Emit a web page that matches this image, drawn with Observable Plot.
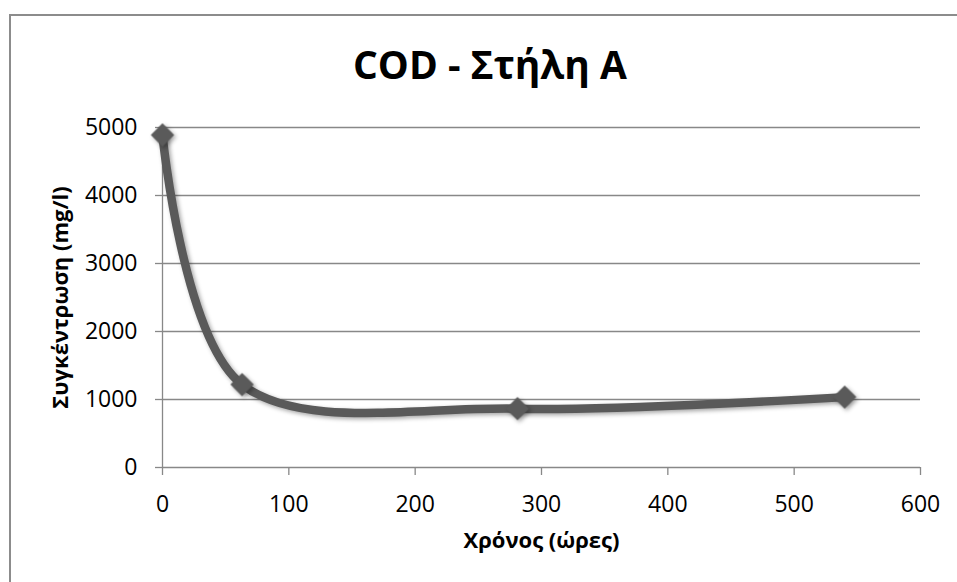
<!DOCTYPE html>
<html>
<head>
<meta charset="utf-8">
<script src="https://cdn.jsdelivr.net/npm/d3@7"></script>
<script src="https://cdn.jsdelivr.net/npm/@observablehq/plot@0.6"></script>
<style>
  html, body { margin: 0; padding: 0; background: #fff; }
  #chart { position: relative; width: 957px; height: 582px; overflow: hidden; font-family: "Open Sans", sans-serif; }
  #frame { position: absolute; left: 9px; top: 14px; right: -5px; bottom: -5px; border-left: 2px solid #8c8c8c; border-top: 2px solid #8c8c8c; }
  #title { position: absolute; left: 0; width: 980px; top: 44px; text-align: center; font-weight: 700; font-size: 39px; line-height: 1; color: #000; }
  #plot { position: absolute; left: 0; top: 0; }
  #plot svg g[aria-label="line"], #plot svg g[aria-label="dot"] { filter: drop-shadow(2px 2px 2px rgba(0,0,0,0.35)); }
</style>
</head>
<body>
<div id="chart">
  <div id="frame"></div>
  <div id="title">COD - Στήλη A</div>
  <div id="plot"></div>
</div>
<script>
// Sampling times (hours) and measured COD concentration (mg/l)
const hours = [0, 63, 281, 540];
const cod = [4890, 1220, 865, 1035];

const xTicks = [0, 100, 200, 300, 400, 500, 600];
const yTicks = [0, 1000, 2000, 3000, 4000, 5000];

const xLabel = "Χρόνος (ώρες)";
const yLabel = "Συγκέντρωση (mg/l)";

const data = hours.map((h, i) => ({hours: h, cod: cod[i]}));

const gray = "#888888";
const series = "#5a5a5a";
const plain = d => String(d);

const chart = Plot.plot({
  width: 957,
  height: 582,
  marginLeft: 162,
  marginRight: 37,
  marginTop: 127,
  marginBottom: 115,
  style: {fontFamily: "Open Sans, sans-serif", fontSize: "23px", color: "#000", background: "transparent", overflow: "visible"},
  x: {domain: [0, 600], ticks: xTicks},
  y: {domain: [0, 5000], ticks: yTicks},
  marks: [
    Plot.ruleY(yTicks, {stroke: gray, strokeWidth: 1.3, strokeOpacity: 1}),
    Plot.ruleX([0], {stroke: gray, strokeWidth: 1.3}),
    Plot.axisX({ticks: xTicks, tickFormat: plain, tickSize: 8, tickPadding: 20, stroke: gray, strokeWidth: 1.3, strokeOpacity: 1, label: null, fill: "#000", fontSize: 23}),
    Plot.axisY({ticks: yTicks, tickFormat: plain, tickSize: 7, tickPadding: 18, stroke: gray, strokeWidth: 1.3, strokeOpacity: 1, label: null, fill: "#000", fontSize: 23}),
    Plot.text([xLabel], {frameAnchor: "bottom", dy: 80, text: d => d, fontWeight: "bold", fontSize: 22}),
    Plot.text([yLabel], {frameAnchor: "left", dx: -102, rotate: -90, textAnchor: "middle", text: d => d, fontWeight: "bold", fontSize: 22}),
    Plot.line(data, {x: "hours", y: "cod", curve: "cardinal", stroke: series, strokeWidth: 8.5, strokeLinecap: "round"}),
    Plot.dot(data, {x: "hours", y: "cod", symbol: "diamond2", r: 10.5, fill: series, stroke: "none"})
  ]
});

document.getElementById("plot").appendChild(chart);
</script>
</body>
</html>
